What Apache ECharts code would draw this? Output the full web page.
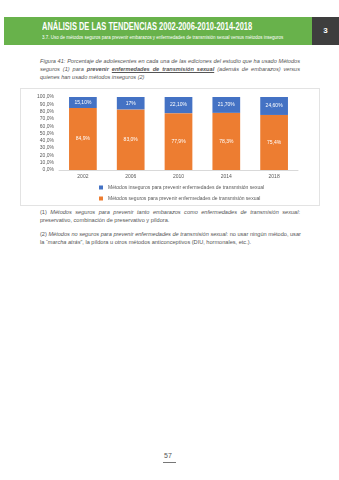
<!DOCTYPE html>
<html>
<head>
<meta charset="utf-8">
<script src="https://cdn.jsdelivr.net/npm/echarts@6/dist/echarts.min.js"></script>
<style>
  html, body { margin: 0; padding: 0; background: #fff; }
  body { width: 339px; height: 480px; position: relative; overflow: hidden;
         font-family: "Liberation Sans", Arial, sans-serif; }
  .abs { position: absolute; white-space: nowrap; }
  #band { position: absolute; left: 4px; top: 17px; width: 308px; height: 28px; background: #68b24b; }
  #pagebox { position: absolute; left: 312px; top: 17px; width: 27px; height: 28px; background: #3e3e3e;
             color: #fff; font-weight: bold; font-size: 8px; text-align: center; line-height: 28px; }
  #title { left: 42px; top: 21px; color: #fff; font-weight: bold; font-size: 10px; transform-origin: 0 0; }
  #subtitle { left: 42px; top: 35px; color: #fff; font-size: 4.6px; transform-origin: 0 0; }
  .para { position: absolute; left: 40px; width: 260px; font-size: 5.6px; color: #555; line-height: 8px; }
  .line { display: block; height: 8px; text-align: justify; text-align-last: justify; white-space: nowrap; }
  .line.last { text-align-last: left; }
  #caption { top: 57px; font-style: italic; }
  #notes { top: 208px; }
  #chart { position: absolute; left: 20px; top: 88px; width: 300px; height: 118px;
           box-sizing: border-box; border: 1px solid #e3e3e3; }
  #pnum { left: 164px; top: 452px; font-size: 7px; color: #555; }
  #pline { position: absolute; left: 163px; top: 462px; width: 13px; height: 1px; background: #777; }
</style>
</head>
<body>
<div id="band"></div>
<div id="pagebox">3</div>
<div id="title" class="abs">ANÁLISIS DE LAS TENDENCIAS 2002-2006-2010-2014-2018</div>
<div id="subtitle" class="abs">3.7. Uso de métodos seguros para prevenir embarazos y enfermedades de transmisión sexual versus métodos inseguros</div>

<div id="caption" class="para">
  <span class="line">Figura 41: Porcentaje de adolescentes en cada una de las ediciones del estudio que ha usado Métodos</span>
  <span class="line">seguros (1) para <b>prevenir</b> <b><u>enfermedades de transmisión sexual</u></b> (además de embarazos) versus</span>
  <span class="line last">quienes han usado métodos inseguros (2)</span>
</div>

<div id="chart"></div>

<div id="notes" class="para">
  <span class="line">(1) <i>Métodos seguros para prevenir tanto embarazos como enfermedades de transmisión sexual</i>:</span>
  <span class="line last">preservativo, combinación de preservativo y píldora.</span>
  <span class="line last" style="height:6px"></span>
  <span class="line">(2) <i>Métodos no seguros para prevenir enfermedades de transmisión sexual</i>: no usar ningún método, usar</span>
  <span class="line last">la “<i>marcha atrás</i>”, la píldora u otros métodos anticonceptivos (DIU, hormonales, etc.).</span>
</div>

<div id="pnum" class="abs">57</div>
<div id="pline"></div>

<script>
// Survey editions
const years = ['2002', '2006', '2010', '2014', '2018'];
// % using unsafe methods (top segment)
const unsafe = [15.1, 17, 22.1, 21.7, 24.6];
const unsafeDecimals = [2, 0, 2, 2, 2];
// % using safe methods (bottom segment)
const safe = [84.9, 83.0, 77.9, 78.3, 75.4];
const safeDecimals = [1, 1, 1, 1, 1];
const seriesNames = [
  'Métodos inseguros para prevenir enfermedades de transmisión sexual',
  'Métodos seguros para prevenir enfermedades de transmisión sexual'
];

// squeeze header lines to their printed widths
function fitWidth(id, w) {
  const el = document.getElementById(id);
  el.style.transform = 'scaleX(' + (w / el.offsetWidth) + ')';
}
fitWidth('title', 210);
fitWidth('subtitle', 241);

const fmt = (v, d) => v.toFixed(d).replace('.', ',') + '%';

const chart = echarts.init(document.getElementById('chart'), null, { renderer: 'canvas' });
const txt = { fontFamily: 'Liberation Sans, Arial, sans-serif', color: '#595959', fontSize: 5 };

chart.setOption({
  animation: false,
  textStyle: txt,
  grid: { left: 38, width: 239, top: 8, height: 73 },
  legend: {
    orient: 'vertical',
    left: 78,
    top: 96,
    padding: 0,
    itemWidth: 4, itemHeight: 4, itemGap: 6,
    icon: 'rect',
    textStyle: Object.assign({}, txt, { fontSize: 5 }),
    data: seriesNames
  },
  xAxis: {
    type: 'category',
    data: years,
    axisTick: { show: false },
    axisLine: { lineStyle: { color: '#d9d9d9' } },
    axisLabel: Object.assign({}, txt, { margin: 4 })
  },
  yAxis: {
    type: 'value',
    min: 0, max: 100, interval: 10,
    splitLine: { show: false },
    axisLabel: Object.assign({}, txt, { margin: 5, formatter: v => v.toFixed(1).replace('.', ',') + '%' })
  },
  series: [
    {
      name: seriesNames[1], type: 'bar', stack: 'total', data: safe,
      barWidth: '58%',
      itemStyle: { color: '#ed7d31' },
      label: { show: true, position: 'inside', color: '#fff', fontSize: 5,
               fontFamily: txt.fontFamily, formatter: p => fmt(safe[p.dataIndex], safeDecimals[p.dataIndex]) }
    },
    {
      name: seriesNames[0], type: 'bar', stack: 'total', data: unsafe,
      barWidth: '58%',
      itemStyle: { color: '#4472c4' },
      label: { show: true, position: 'inside', color: '#fff', fontSize: 5,
               fontFamily: txt.fontFamily, formatter: p => fmt(unsafe[p.dataIndex], unsafeDecimals[p.dataIndex]) }
    }
  ]
});
</script>
</body>
</html>
